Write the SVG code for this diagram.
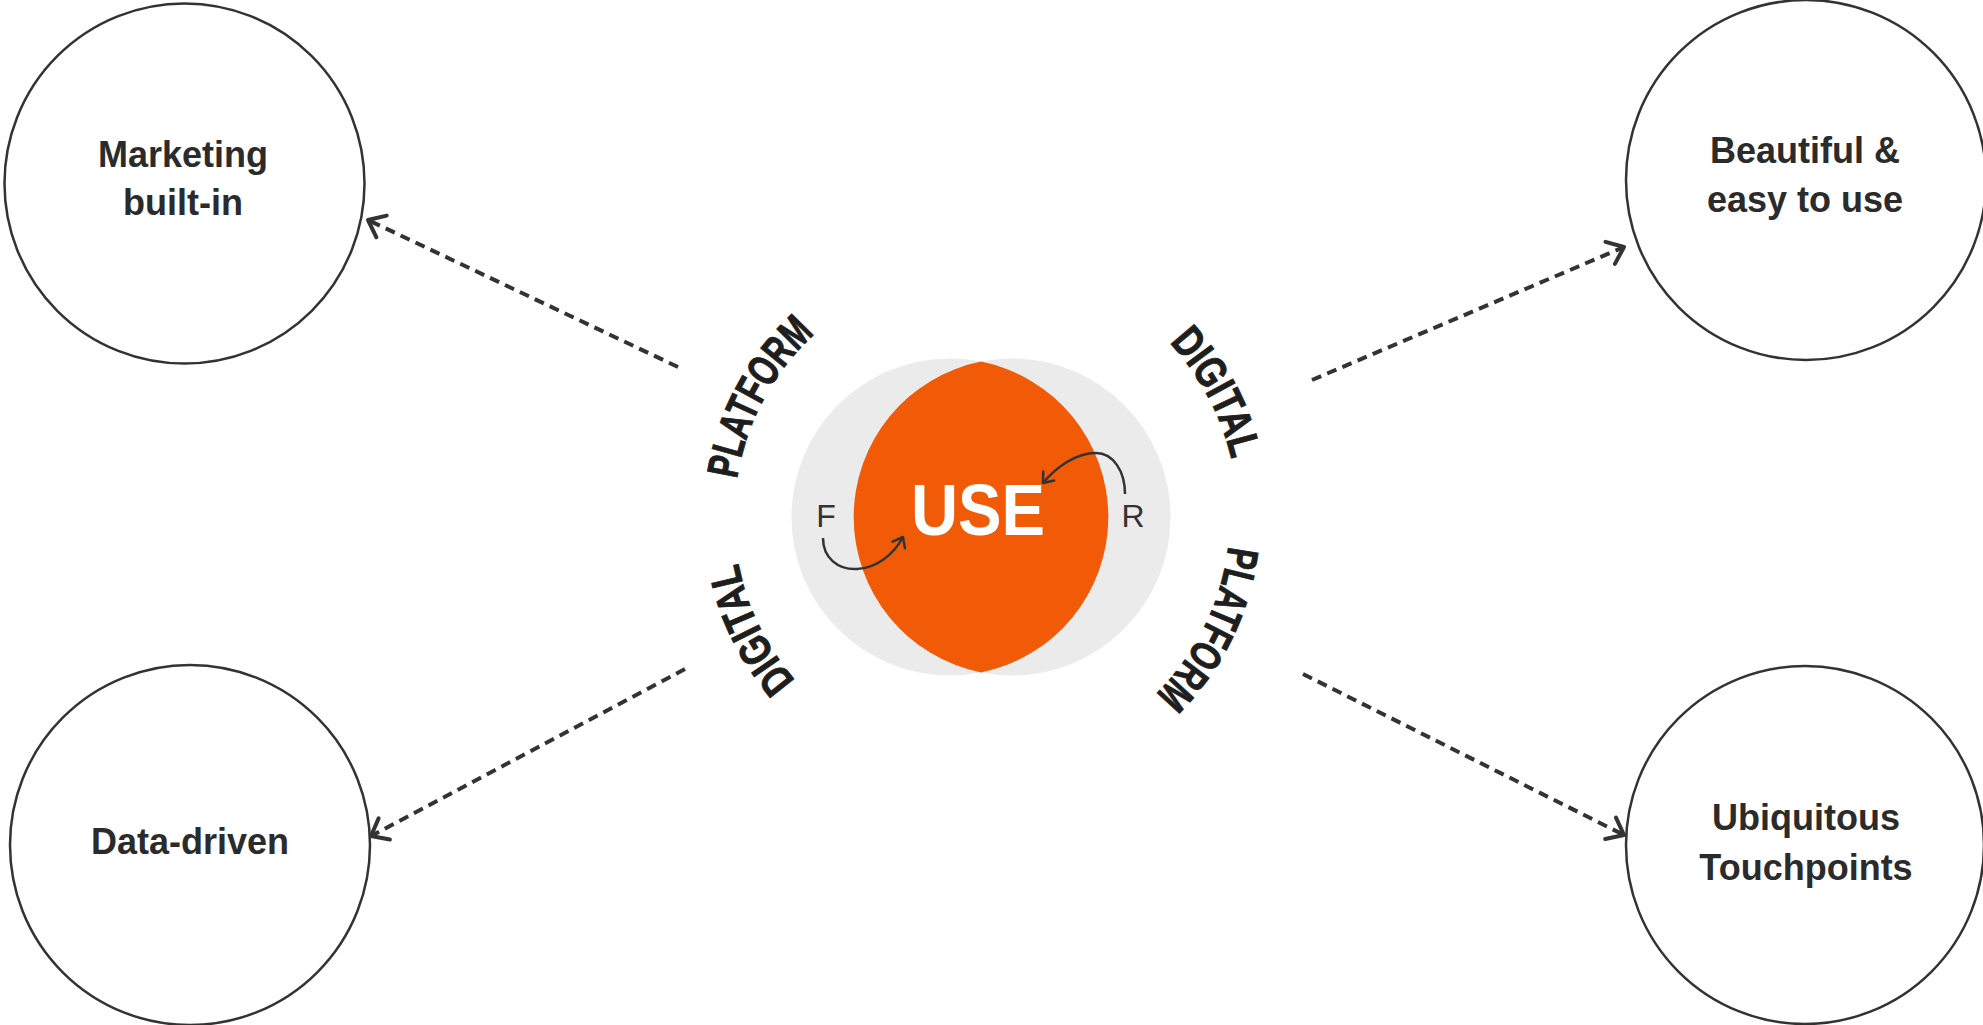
<svg xmlns="http://www.w3.org/2000/svg" width="1983" height="1025" viewBox="0 0 1983 1025">
  <style>
    .node { fill: #ffffff; stroke: #333333; stroke-width: 2.5; }
    .label { font-family: "Liberation Sans", Arial, sans-serif; font-weight: bold; font-size: 36px; fill: #2b2b2b; text-anchor: middle; }
    .conn { fill: none; stroke: #333333; stroke-width: 4; stroke-dasharray: 10 6.5; }
    .arc { font-family: "Liberation Sans", Arial, sans-serif; font-weight: bold; font-size: 44px; fill: #1e1e1e; stroke: #1e1e1e; stroke-width: 1; }
    .fr { font-family: "Liberation Sans", Arial, sans-serif; font-size: 32px; fill: #333333; text-anchor: middle; }
    .loop { fill: none; stroke: #333333; stroke-width: 2.5; }
  </style>
  <defs>
    <marker id="chev" markerUnits="userSpaceOnUse" markerWidth="40" markerHeight="40" viewBox="-20 -20 40 40" refX="0" refY="0" orient="auto">
      <path d="M-15,-12 L0,0 L-15,12" fill="none" stroke="#333333" stroke-width="4" stroke-linecap="round" stroke-linejoin="round"/>
    </marker>
    <marker id="chevS" markerUnits="userSpaceOnUse" markerWidth="24" markerHeight="24" viewBox="-12 -12 24 24" refX="0" refY="0" orient="auto">
      <path d="M-9,-7 L0,0 L-9,7" fill="none" stroke="#333333" stroke-width="2.5" stroke-linecap="round" stroke-linejoin="round"/>
    </marker>
    <path id="arcTL" d="M738.56,564.32 A248,248 0 0 1 893.12,285.47"/>
    <path id="arcTR" d="M1077.90,279.64 A256,256 0 0 1 1232.41,570.23"/>
    <path id="arcBR" d="M1223.64,461.21 A248,248 0 0 1 1078.90,745.28"/>
    <path id="arcBL" d="M881.13,743.56 A248,248 0 0 1 741.37,457.00"/>
  </defs>

  <rect width="1983" height="1025" fill="#ffffff"/>

  <g id="connectors">
    <line class="conn" x1="678" y1="367" x2="368" y2="220" marker-end="url(#chev)"/>
    <line class="conn" x1="1312" y1="380" x2="1624" y2="247" marker-end="url(#chev)"/>
    <line class="conn" x1="685" y1="669" x2="371" y2="836" marker-end="url(#chev)"/>
    <line class="conn" x1="1303" y1="674" x2="1624" y2="835" marker-end="url(#chev)"/>
  </g>

  <g id="node-marketing">
    <circle class="node" cx="184.5" cy="183.5" r="180"/>
    <text class="label" x="183" y="167">Marketing</text>
    <text class="label" x="183" y="215">built-in</text>
  </g>

  <g id="node-beautiful">
    <circle class="node" cx="1806" cy="180" r="180"/>
    <text class="label" x="1805" y="163">Beautiful &amp;</text>
    <text class="label" x="1805" y="212">easy to use</text>
  </g>

  <g id="node-data">
    <circle class="node" cx="190" cy="845" r="180"/>
    <text class="label" x="190" y="854">Data-driven</text>
  </g>

  <g id="node-ubiquitous">
    <circle class="node" cx="1805" cy="845" r="179"/>
    <text class="label" x="1806" y="830">Ubiquitous</text>
    <text class="label" x="1806" y="880">Touchpoints</text>
  </g>

  <g id="node-use">
    <circle cx="950" cy="517" r="158.5" fill="#ebebeb"/>
    <circle cx="1012" cy="517" r="158.5" fill="#ebebeb"/>
    <path d="M981,361.6 A158.5,158.5 0 0 1 981,672.4 A158.5,158.5 0 0 1 981,361.6 Z" fill="#f15a06"/>
    <text x="978" y="535" font-family="'Liberation Sans', Arial, sans-serif" font-weight="bold" font-size="72" fill="#ffffff" text-anchor="middle" textLength="134" lengthAdjust="spacingAndGlyphs">USE</text>
    <text class="fr" x="826" y="527">F</text>
    <text class="fr" x="1133" y="527">R</text>
    <path class="loop" d="M823,538 C823,558 838,570 857,569 C877,568 894,554 903,537" marker-end="url(#chevS)"/>
    <path class="loop" d="M1125,494 C1125,471 1113,453 1096,453 C1076,453 1056,467 1043,483" marker-end="url(#chevS)"/>
  </g>

  <g id="ring-labels">
    <text class="arc"><textPath href="#arcTL" startOffset="49%" text-anchor="middle" textLength="168" lengthAdjust="spacingAndGlyphs">PLATFORM</textPath></text>
    <text class="arc"><textPath href="#arcTR" startOffset="50%" text-anchor="middle" textLength="134" lengthAdjust="spacingAndGlyphs">DIGITAL</textPath></text>
    <text class="arc"><textPath href="#arcBR" startOffset="49%" text-anchor="middle" textLength="168" lengthAdjust="spacingAndGlyphs">PLATFORM</textPath></text>
    <text class="arc"><textPath href="#arcBL" startOffset="50%" text-anchor="middle" textLength="132" lengthAdjust="spacingAndGlyphs">DIGITAL</textPath></text>
  </g>
</svg>
